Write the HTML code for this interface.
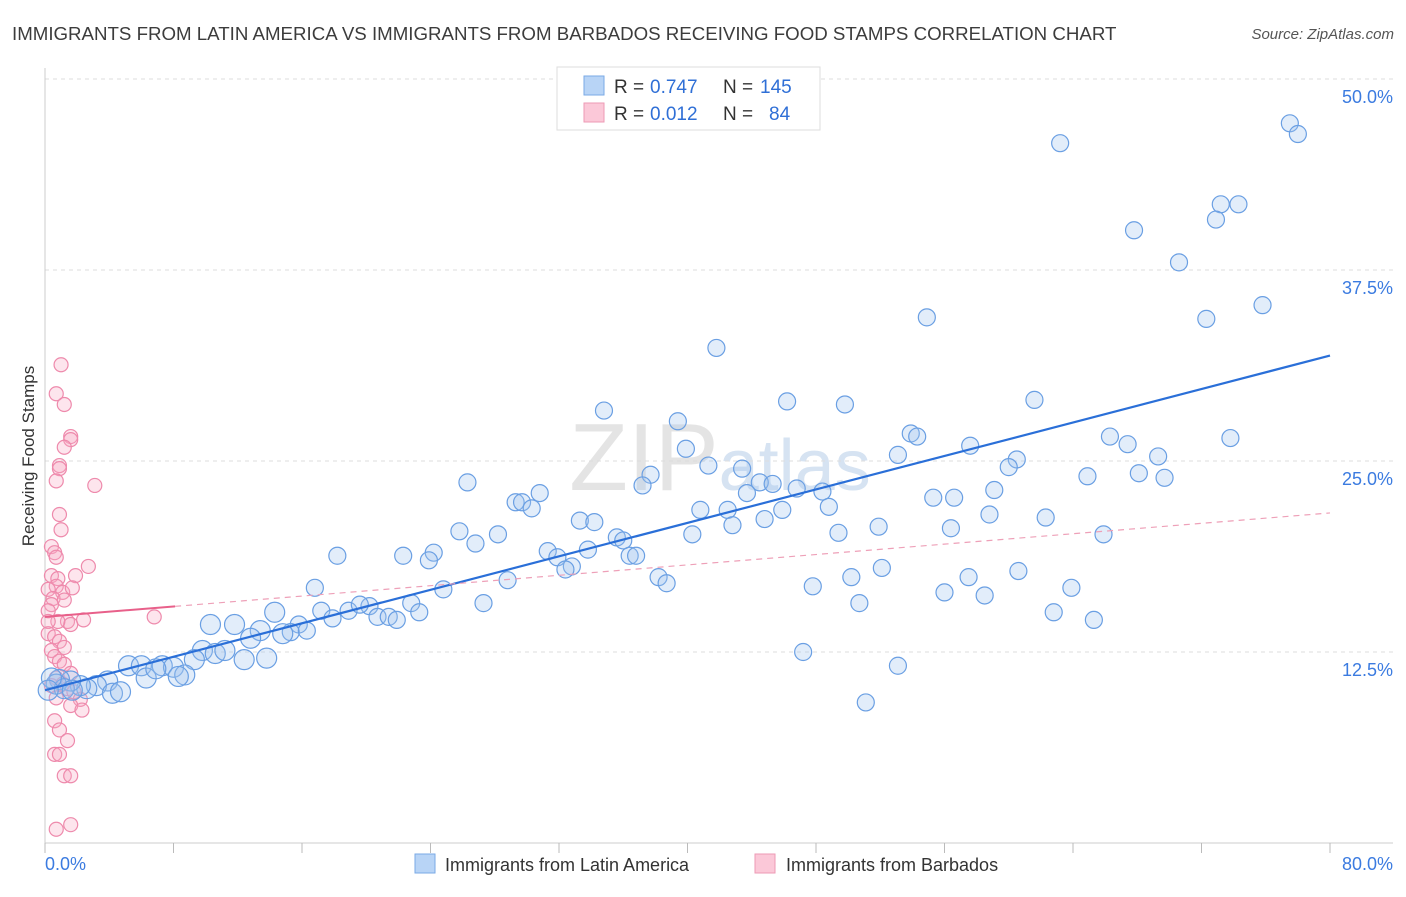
<!DOCTYPE html>
<html><head><meta charset="utf-8"><style>
body{margin:0;background:#fff;font-family:"Liberation Sans",sans-serif;}
svg text{font-family:"Liberation Sans",sans-serif;}
</style></head><body>
<svg id="chart" width="1406" height="892" viewBox="0 0 1406 892" xmlns="http://www.w3.org/2000/svg">
<text x="12" y="40" font-size="18.7" fill="#3c3c3c">IMMIGRANTS FROM LATIN AMERICA VS IMMIGRANTS FROM BARBADOS RECEIVING FOOD STAMPS CORRELATION CHART</text>
<text x="1394" y="39" font-size="15" fill="#555" text-anchor="end" font-style="italic">Source: ZipAtlas.com</text>
<text x="720" y="490" font-size="96" fill="#e4e4e4" text-anchor="middle" font-family="Liberation Serif">ZIP<tspan fill="#d6e3f2" font-family="Liberation Sans" font-size="72">atlas</tspan></text>
<g id="grid"></g>
<g id="axes"></g>
<g id="pinkPts"></g>
<g id="bluePts"></g>
<g id="lines"></g>
<text transform="translate(34,456) rotate(-90)" font-size="17" fill="#333" text-anchor="middle">Receiving Food Stamps</text>
<g>
<rect x="557" y="67" width="263" height="63" fill="#fff" stroke="#ddd"/>
<rect x="584" y="76" width="20" height="19" fill="#b8d4f6" stroke="#7aaae6"/>
<rect x="584" y="103" width="20" height="19" fill="#fbc8d8" stroke="#ee9ab5"/>
<text x="614" y="93" font-size="19" fill="#333">R =</text>
<text x="650" y="93" font-size="19" fill="#2f6fd6">0.747</text>
<text x="723" y="93" font-size="19" fill="#333">N =</text>
<text x="760" y="93" font-size="19" fill="#2f6fd6">145</text>
<text x="614" y="120" font-size="19" fill="#333">R =</text>
<text x="650" y="120" font-size="19" fill="#2f6fd6">0.012</text>
<text x="723" y="120" font-size="19" fill="#333">N =</text>
<text x="769" y="120" font-size="19" fill="#2f6fd6">84</text>
</g>
<g>
<rect x="415" y="854" width="20" height="19" fill="#b8d4f6" stroke="#7aaae6"/>
<text x="445" y="871" font-size="18" fill="#333">Immigrants from Latin America</text>
<rect x="755" y="854" width="20" height="19" fill="#fbc8d8" stroke="#ee9ab5"/>
<text x="786" y="871" font-size="18" fill="#333">Immigrants from Barbados</text>
</g>
</svg>
<script>
const yTicks=[12.5,25,37.5,50];
const yTickLabels=["12.5%","25.0%","37.5%","50.0%"];
const blueX=[63.2,77.5,78.0,67.8,73.2,74.3,72.9,70.6,72.3,75.8,54.9,41.8,46.2,49.8,61.6,34.8,39.4,66.3,67.4,73.8,53.9,54.3,57.6,39.9,53.1,69.3,60.5,60.0,41.3,43.4,64.9,68.1,69.7,26.3,37.7,37.2,44.5,45.3,46.8,48.4,43.7,59.1,55.3,56.6,30.8,29.3,29.7,30.3,40.8,42.5,45.9,48.8,58.8,62.3,33.3,34.2,44.8,42.8,51.9,56.4,40.3,49.4,65.9,25.8,28.2,26.8,35.6,36.0,33.8,31.3,24.2,22.3,23.9,18.2,31.9,32.8,32.4,36.4,36.8,38.2,38.7,28.8,24.8,16.8,47.8,50.2,52.1,57.5,60.6,56.0,58.5,63.9,50.7,27.3,22.8,18.9,20.2,19.6,14.3,17.2,20.7,21.4,21.9,23.3,17.9,15.8,11.8,10.3,15.3,16.3,14.8,13.4,12.8,62.8,65.3,9.8,10.6,11.2,12.4,13.8,9.3,5.2,6.0,7.3,8.0,8.7,8.3,6.3,6.9,47.2,53.1,51.1,3.9,3.2,2.6,2.2,1.6,0.9,0.7,1.2,1.7,4.2,4.7,0.4,0.2];
const blueY=[45.8,47.1,46.4,40.1,41.8,41.8,40.8,38.0,34.3,35.2,34.4,32.4,28.9,28.7,29.0,28.3,27.6,26.6,26.1,26.5,26.8,26.6,26.0,25.8,25.4,25.3,25.1,24.6,24.7,24.5,24.0,24.2,23.9,23.6,24.1,23.4,23.6,23.5,23.2,23.0,22.9,23.1,22.6,22.6,22.9,22.3,22.3,21.9,21.8,21.8,21.8,22.0,21.5,21.3,21.1,21.0,21.2,20.8,20.7,20.6,20.2,20.3,20.2,20.4,20.2,19.6,20.0,19.8,19.2,19.1,19.0,18.8,18.5,18.8,18.7,18.1,17.9,18.8,18.8,17.4,17.0,17.2,16.6,16.7,16.8,17.4,18.0,17.4,17.8,16.4,16.2,16.7,15.7,15.7,15.7,15.2,15.5,15.6,15.1,15.2,14.8,14.8,14.6,15.1,14.7,14.3,14.3,14.3,13.8,13.9,13.7,13.9,13.4,15.1,14.6,12.6,12.4,12.6,12.0,12.1,12.0,11.6,11.6,11.6,11.5,11.0,10.9,10.8,11.4,12.5,11.6,9.2,10.6,10.3,10.1,10.3,10.6,10.7,10.4,10.1,10.0,9.8,9.9,10.8,10.0];
const pinkX=[1.0,0.7,1.2,1.6,1.6,1.2,0.9,0.9,0.7,3.1,0.9,1.0,0.4,0.6,0.7,2.7,1.9,0.4,0.8,0.7,1.1,1.7,0.2,0.5,1.2,0.4,0.2,6.8,2.4,1.4,1.6,0.8,0.2,0.2,0.6,0.9,1.2,0.4,0.6,0.9,1.2,1.6,0.7,1.1,1.4,0.4,1.8,0.7,2.2,1.6,2.3,0.6,0.9,1.4,0.6,0.9,1.2,1.6,1.6,0.7];
const pinkY=[31.3,29.4,28.7,26.6,26.4,25.9,24.7,24.5,23.7,23.4,21.5,20.5,19.4,19.0,18.7,18.1,17.5,17.5,17.3,16.8,16.4,16.7,16.6,16.0,15.9,15.6,15.2,14.8,14.6,14.5,14.3,14.5,14.5,13.7,13.5,13.2,12.8,12.6,12.2,11.9,11.7,11.1,10.8,10.4,10.1,10.3,9.9,9.5,9.4,9.0,8.7,8.0,7.4,6.7,5.8,5.8,4.4,4.4,1.2,0.9];
const blueTrend=[10.0,31.9];
const pinkTrend=[14.8,21.6];
const pinkSolidEnd=8.1;

const NS="http://www.w3.org/2000/svg";
const X0=45,X1=1330,Y0=843,PXPER=191/12.5;
function sx(v){return X0+(v/80)*(X1-X0);}
function sy(v){return Y0-v*PXPER;}
function mk(tag,attrs,parent){const e=document.createElementNS(NS,tag);for(const k in attrs)e.setAttribute(k,attrs[k]);parent.appendChild(e);return e;}
const grid=document.getElementById('grid'),axes=document.getElementById('axes');
yTicks.forEach((t,i)=>{
 const l=mk('line',{x1:X0,x2:1393,y1:sy(t),y2:sy(t),stroke:'#ddd','stroke-dasharray':'4,4'},grid);
 
 
 const tx=mk('text',{x:1393,y:sy(t)+24,'font-size':18,fill:'#3b7be0','text-anchor':'end'},axes);
 tx.textContent=yTickLabels[i];
 
 
});
mk('line',{x1:X0,x2:X0,y1:68,y2:Y0,stroke:'#ccc'},axes);
mk('line',{x1:X0,x2:1393,y1:Y0,y2:Y0,stroke:'#ccc'},axes);
[0,8,16,24,32,40,48,56,64,72,80].forEach(v=>{
 const t=mk('line',{x1:sx(v),x2:sx(v),y1:Y0,y2:Y0+10,stroke:'#bbb'},axes);
 
 
});
const xl0=mk('text',{x:45,y:870,'font-size':18,fill:'#3b7be0'},axes);xl0.textContent='0.0%';


const xl1=mk('text',{x:1393,y:870,'font-size':18,fill:'#3b7be0','text-anchor':'end'},axes);xl1.textContent='80.0%';


const pg=document.getElementById('pinkPts');
pinkX.forEach((x,i)=>{
 const c=mk('circle',{cx:sx(x),cy:sy(pinkY[i]),r:7,fill:'rgba(248,170,195,0.3)',stroke:'#ee8aac','stroke-width':1.2},pg);
 
 
});
const bg=document.getElementById('bluePts');
blueX.forEach((x,i)=>{
 const r=x<15?10:8.5;
 const c=mk('circle',{cx:sx(x),cy:sy(blueY[i]),r:r,fill:'rgba(160,195,240,0.3)',stroke:'#6a9fe3','stroke-width':1.2},bg);
 
 
});
const lg=document.getElementById('lines');
const bl=mk('line',{x1:sx(0),y1:sy(blueTrend[0]),x2:sx(80),y2:sy(blueTrend[1]),stroke:'#2a6fd8','stroke-width':2.2},lg);


const pf=v=>pinkTrend[0]+(pinkTrend[1]-pinkTrend[0])*v/80;
const ps=mk('line',{x1:sx(0),y1:sy(pf(0)),x2:sx(pinkSolidEnd),y2:sy(pf(pinkSolidEnd)),stroke:'#e8608a','stroke-width':2},lg);


const pd=mk('line',{x1:sx(pinkSolidEnd),y1:sy(pf(pinkSolidEnd)),x2:sx(80),y2:sy(pf(80)),stroke:'#eea0b8','stroke-width':1.2,'stroke-dasharray':'6,5'},lg);


</script>
</body></html>
